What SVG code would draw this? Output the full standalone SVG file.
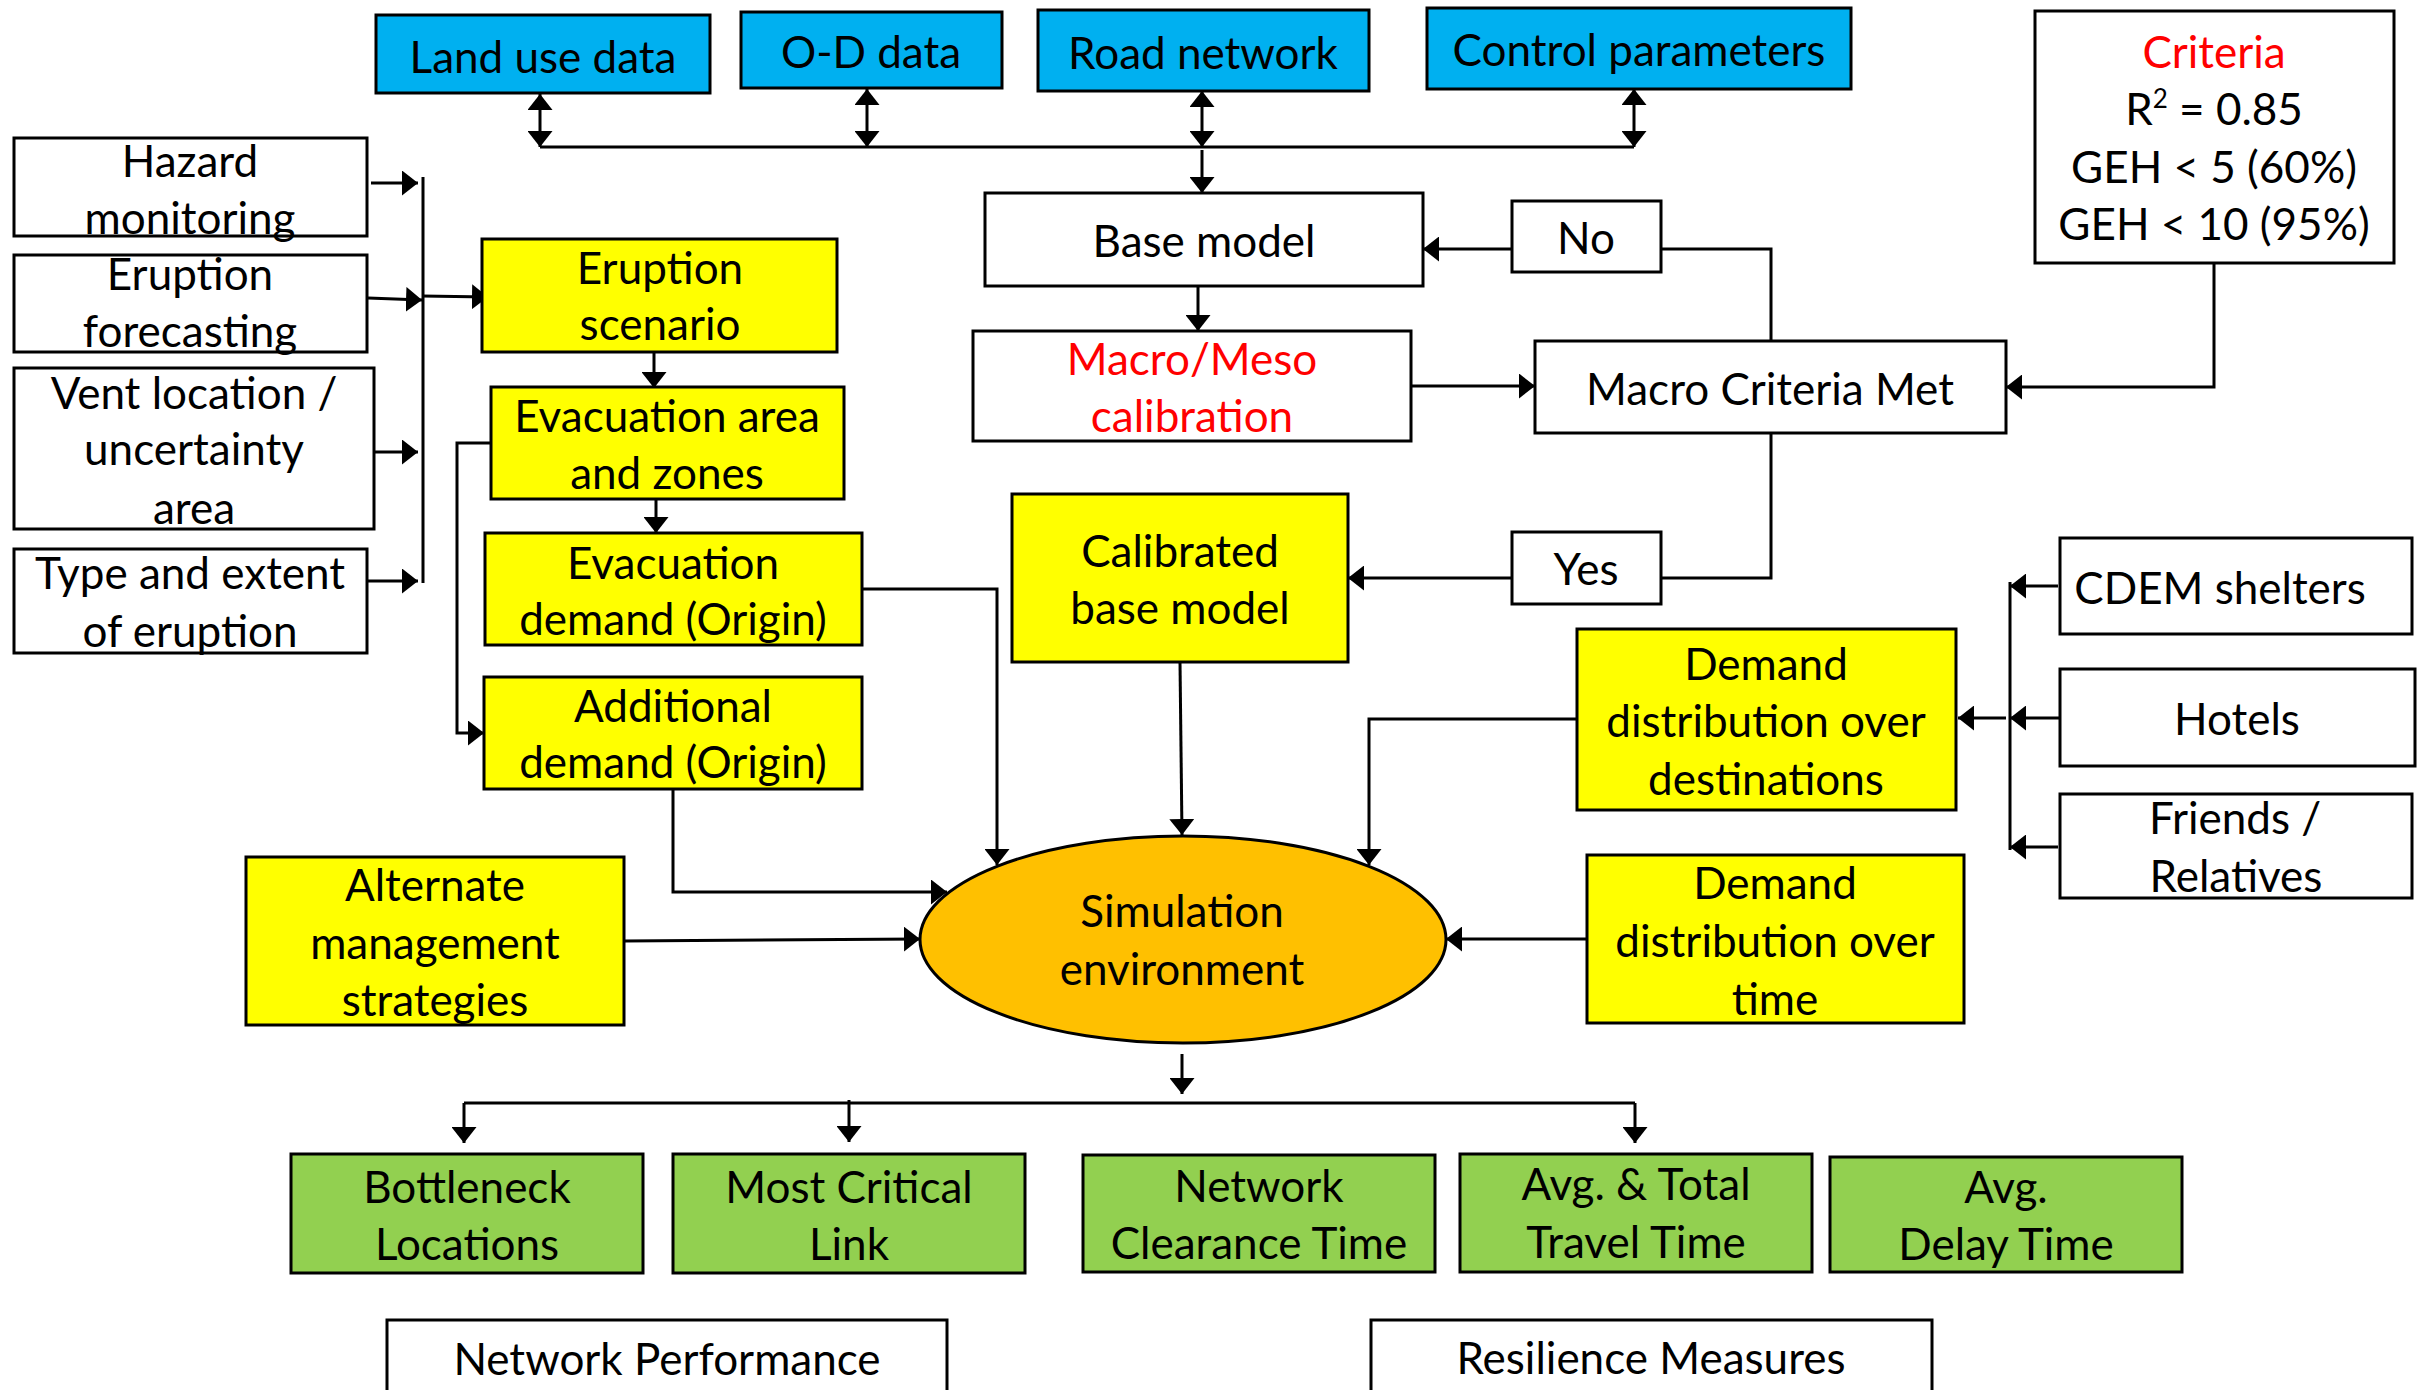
<svg xmlns="http://www.w3.org/2000/svg" width="2425" height="1390" viewBox="0 0 2425 1390">
<style>
text{font-family:Lato,"Liberation Sans",sans-serif;font-size:44px;fill:#000;text-anchor:middle;transform:translate(0px,2px)}
.red{fill:#FF0000}
rect,ellipse{stroke:#000;stroke-width:3}
.blue{fill:#00B0F0}.yel{fill:#FFFF00}.grn{fill:#92D050}.wht{fill:#fff}.org{fill:#FFC000}
#connectors path{fill:none;stroke:#000;stroke-width:3}
.ar{marker-end:url(#ah)}
.dar{marker-end:url(#ah);marker-start:url(#ah)}
</style>
<defs>
<marker id="ah" viewBox="0 0 16 25" refX="16" refY="12.5" markerWidth="16" markerHeight="25" markerUnits="userSpaceOnUse" orient="auto-start-reverse"><path d="M0,0 L16,12.5 L0,25 z" fill="#000"/></marker>
</defs>
<rect width="2425" height="1390" fill="#fff" style="stroke:none"/>

<g id="connectors">
<path class="dar" d="M540,94 V147"/>
<path class="dar" d="M867,89 V147"/>
<path class="dar" d="M1202,91 V147"/>
<path class="dar" d="M1634,89 V147"/>
<path d="M540,147 H1634"/>
<path class="ar" d="M1202,150 V193"/>
<path class="ar" d="M1512,249 H1423"/>
<path d="M1771,341 V249 H1661"/>
<path class="ar" d="M1198,286 V331"/>
<path class="ar" d="M1411,386 H1535"/>
<path class="ar" d="M2214,263 V387 H2006"/>
<path d="M1771,433 V578 H1661"/>
<path class="ar" d="M1512,578 H1348"/>
<path class="ar" d="M1180,662 L1182,835"/>
<path class="ar" d="M1577,719 H1369 V865"/>
<path class="ar" d="M2058,586 H2010"/>
<path class="ar" d="M2060,718 H2010"/>
<path class="ar" d="M2058,847 H2010"/>
<path d="M2010,582 V850"/>
<path class="ar" d="M2006,718 H1958"/>
<path class="ar" d="M1587,939 H1446"/>
<path class="ar" d="M862,589 H997 V865"/>
<path class="ar" d="M673,789 V892 H947"/>
<path class="ar" d="M624,941 L920,939"/>
<path class="ar" d="M1182,1054 V1094"/>
<path d="M464,1103 H1635"/>
<path class="ar" d="M464,1103 V1143"/>
<path class="ar" d="M849,1100 V1142"/>
<path class="ar" d="M1635,1103 V1143"/>
<path class="ar" d="M371,183 H418"/>
<path d="M423,177 V583"/>
<path class="ar" d="M368,298 L422,300"/>
<path class="ar" d="M422,296 L488,297"/>
<path class="ar" d="M372,452 H418"/>
<path class="ar" d="M368,581 H418"/>
<path class="ar" d="M654,352 V388"/>
<path class="ar" d="M656,499 V533"/>
<path class="ar" d="M491,443 H457 V733 H484"/>
</g>

<g id="land-use"><rect class="blue" x="376" y="15" width="334" height="78"/><text x="543" y="71">Land use data</text></g>
<g id="od-data"><rect class="blue" x="741" y="12" width="261" height="76"/><text x="871" y="66">O-D data</text></g>
<g id="road-network"><rect class="blue" x="1038" y="10" width="331" height="81"/><text x="1203" y="67">Road network</text></g>
<g id="control-parameters"><rect class="blue" x="1427" y="8" width="424" height="81"/><text x="1639" y="64">Control parameters</text></g>
<g id="criteria"><rect class="wht" x="2035" y="11" width="359" height="252"/>
<text class="red" x="2214" y="66">Criteria</text>
<text x="2214" y="123">R<tspan font-size="26" dy="-17">2</tspan><tspan dy="17"> = 0.85</tspan></text>
<text x="2214" y="181">GEH &lt; 5 (60%)</text>
<text x="2214" y="238">GEH &lt; 10 (95%)</text></g>
<g id="base-model"><rect class="wht" x="985" y="193" width="438" height="93"/><text x="1204" y="255">Base model</text></g>
<g id="no"><rect class="wht" x="1512" y="201" width="149" height="71"/><text x="1586" y="252">No</text></g>
<g id="macro-meso"><rect class="wht" x="973" y="331" width="438" height="110"/><text class="red" x="1192" y="373">Macro/Meso</text><text class="red" x="1192" y="430">calibration</text></g>
<g id="macro-criteria-met"><rect class="wht" x="1535" y="341" width="471" height="92"/><text x="1770" y="403">Macro Criteria Met</text></g>
<g id="yes"><rect class="wht" x="1512" y="532" width="149" height="72"/><text x="1586" y="583">Yes</text></g>
<g id="calibrated"><rect class="yel" x="1012" y="494" width="336" height="168"/><text x="1180" y="565">Calibrated</text><text x="1180" y="622">base model</text></g>
<g id="cdem"><rect class="wht" x="2060" y="538" width="352" height="96"/><text x="2220" y="602">CDEM shelters</text></g>
<g id="hotels"><rect class="wht" x="2060" y="669" width="355" height="97"/><text x="2237" y="733">Hotels</text></g>
<g id="friends"><rect class="wht" x="2060" y="794" width="352" height="104"/><text x="2235" y="832">Friends /</text><text x="2236" y="890">Relatives</text></g>
<g id="demand-dest"><rect class="yel" x="1577" y="629" width="379" height="181"/><text x="1766" y="678">Demand</text><text x="1766" y="735">distribution over</text><text x="1766" y="793">destinations</text></g>
<g id="demand-time"><rect class="yel" x="1587" y="855" width="377" height="168"/><text x="1775" y="897">Demand</text><text x="1775" y="955">distribution over</text><text x="1775" y="1013">time</text></g>
<g id="simulation"><ellipse class="org" cx="1183" cy="939.5" rx="263" ry="103.5"/><text x="1182" y="925">Simulation</text><text x="1182" y="983">environment</text></g>
<g id="hazard"><rect class="wht" x="14" y="138" width="353" height="98"/><text x="190" y="175">Hazard</text><text x="190" y="232">monitoring</text></g>
<g id="eruption-forecasting"><rect class="wht" x="14" y="255" width="353" height="97"/><text x="190" y="288">Eruption</text><text x="190" y="345">forecasting</text></g>
<g id="vent"><rect class="wht" x="14" y="368" width="360" height="161"/><text x="194" y="407">Vent location /</text><text x="194" y="463">uncertainty</text><text x="194" y="522">area</text></g>
<g id="type-extent"><rect class="wht" x="14" y="549" width="353" height="104"/><text x="190" y="587">Type and extent</text><text x="190" y="645">of eruption</text></g>
<g id="eruption-scenario"><rect class="yel" x="482" y="239" width="355" height="113"/><text x="660" y="282">Eruption</text><text x="660" y="338">scenario</text></g>
<g id="evac-area"><rect class="yel" x="491" y="387" width="353" height="112"/><text x="667" y="430">Evacuation area</text><text x="667" y="487">and zones</text></g>
<g id="evac-demand"><rect class="yel" x="485" y="533" width="377" height="112"/><text x="673" y="577">Evacuation</text><text x="673" y="633">demand (Origin)</text></g>
<g id="additional-demand"><rect class="yel" x="484" y="677" width="378" height="112"/><text x="673" y="720">Additional</text><text x="673" y="776">demand (Origin)</text></g>
<g id="alternate"><rect class="yel" x="246" y="857" width="378" height="168"/><text x="435" y="899">Alternate</text><text x="435" y="957">management</text><text x="435" y="1014">strategies</text></g>
<g id="bottleneck"><rect class="grn" x="291" y="1154" width="352" height="119"/><text x="467" y="1201">Bottleneck</text><text x="467" y="1258">Locations</text></g>
<g id="critical-link"><rect class="grn" x="673" y="1154" width="352" height="119"/><text x="849" y="1201">Most Critical</text><text x="849" y="1258">Link</text></g>
<g id="clearance"><rect class="grn" x="1083" y="1155" width="352" height="117"/><text x="1259" y="1200">Network</text><text x="1259" y="1257">Clearance Time</text></g>
<g id="travel-time"><rect class="grn" x="1460" y="1154" width="352" height="118"/><text x="1636" y="1198">Avg. &amp; Total</text><text x="1636" y="1256">Travel Time</text></g>
<g id="delay-time"><rect class="grn" x="1830" y="1157" width="352" height="115"/><text x="2006" y="1201">Avg.</text><text x="2006" y="1258">Delay Time</text></g>
<g id="network-performance"><rect class="wht" x="387" y="1320" width="560" height="90"/><text x="667" y="1373">Network Performance</text></g>
<g id="resilience"><rect class="wht" x="1371" y="1320" width="561" height="90"/><text x="1651" y="1372">Resilience Measures</text></g>
</svg>
